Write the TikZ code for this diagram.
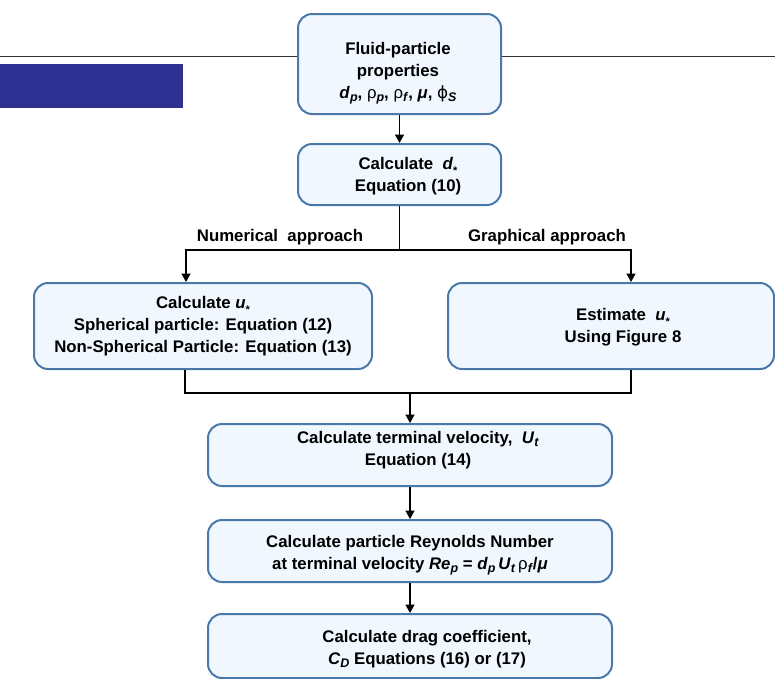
\documentclass[tikz,border=0pt]{standalone}
\usepackage{fontspec}
\setmainfont{Liberation Sans}
\newfontfamily\dvfont{DejaVu Sans}
\usetikzlibrary{arrows.meta}
\definecolor{boxline}{HTML}{4A78A9}
\definecolor{boxfill}{HTML}{F0F7FE}
\definecolor{bandblue}{HTML}{2E3192}
\newcommand{\vb}[1]{\textbf{\textit{#1}}}
\newcommand{\sbs}[1]{\raisebox{-0.35ex}{\fontsize{12.5}{12.5}\selectfont #1}}
\newcommand{\starsub}{\raisebox{-0.6ex}{\fontsize{11}{11}\selectfont *}}
\begin{document}
\begin{tikzpicture}[x=1pt,y=-1pt,
  box/.style={draw=boxline, fill=boxfill, line width=2pt, rounded corners=14pt, inner sep=0pt},
  txt/.style={font=\fontsize{16.8}{22}\selectfont\bfseries, align=center, inner sep=0pt},
  conn/.style={line width=1.6pt, black},
  arr/.style={conn, -{Triangle[length=8.5pt,width=9pt]}}]
\useasboundingbox (0,0) rectangle (775,678);
\draw[line width=1.2pt, black!80] (0,56.5) -- (775,56.5);
\fill[bandblue] (0,64) rectangle (183,108);

\node[box, minimum width=203pt, minimum height=100pt] (b1) at (399.5,64) {};
\node[box, minimum width=203pt, minimum height=61pt] (b2) at (399.5,174.5) {};
\node[box, minimum width=338pt, minimum height=86pt] (b3) at (203,326) {};
\node[box, minimum width=326pt, minimum height=86pt] (b4r) at (611,326) {};
\node[box, minimum width=404pt, minimum height=62pt] (b5) at (410,455) {};
\node[box, minimum width=404pt, minimum height=62pt] (b6) at (410,551) {};
\node[box, minimum width=404pt, minimum height=64pt] (b7) at (410,646) {};

\node[txt] (t1) at (398,73) {Fluid-particle\\properties\\\vb{d}\sbs{\vb{p}}, {\mdseries ρ}\sbs{\vb{p}}, {\mdseries ρ}\sbs{\vb{f}}, \vb{μ}, {\mdseries\dvfont ϕ}\sbs{\vb{S}}};
\node[txt] (t2) at (408,176) {Calculate\ \ \vb{d}\starsub\\Equation (10)};
\node[txt] (t3) at (203,326) {Calculate \vb{u}\starsub\\Spherical particle: Equation (12)\\Non-Spherical Particle: Equation (13)};
\node[txt] (t4) at (623,327) {Estimate\ \ \vb{u}\starsub\\Using Figure 8};
\node[txt] (t5) at (418,450) {Calculate terminal velocity,\ \ \vb{U}\sbs{\vb{t}}\\Equation (14)};
\node[txt] (t6) at (410,555) {Calculate particle Reynolds Number\\at terminal velocity \vb{Re}\sbs{\vb{p}} = \vb{d}\sbs{\vb{p}}\,\vb{U}\sbs{\vb{t}}\,{\mdseries ρ}\sbs{\vb{f}}/\vb{μ}};
\node[txt] (t7) at (427,649) {Calculate drag coefficient,\\\vb{C}\sbs{\vb{D}} Equations (16) or (17)};

\node[txt] (lab1) at (280,237) {Numerical\ \ approach};
\node[txt] (lab2) at (547,237) {Graphical approach};

\coordinate (split) at (399.5,250);
\coordinate (la) at (186,250);
\coordinate (ra) at (631,250);
\coordinate (lb) at (185,393);
\coordinate (rb) at (631,393);
\coordinate (mb) at (410,393);

\draw[arr] (b1.south) -- (b2.north);
\draw[conn] (b2.south) -- (split);
\draw[arr] (split) -- (la) -- (la |- b3.north);
\draw[arr] (split) -- (ra) -- (ra |- b4r.north);
\draw[conn] (lb |- b3.south) -- (lb) -- (rb) -- (rb |- b4r.south);
\draw[arr] (mb) -- (b5.north);
\draw[arr] (b5.south) -- (b6.north);
\draw[arr] (b6.south) -- (b7.north);
\end{tikzpicture}
\end{document}
